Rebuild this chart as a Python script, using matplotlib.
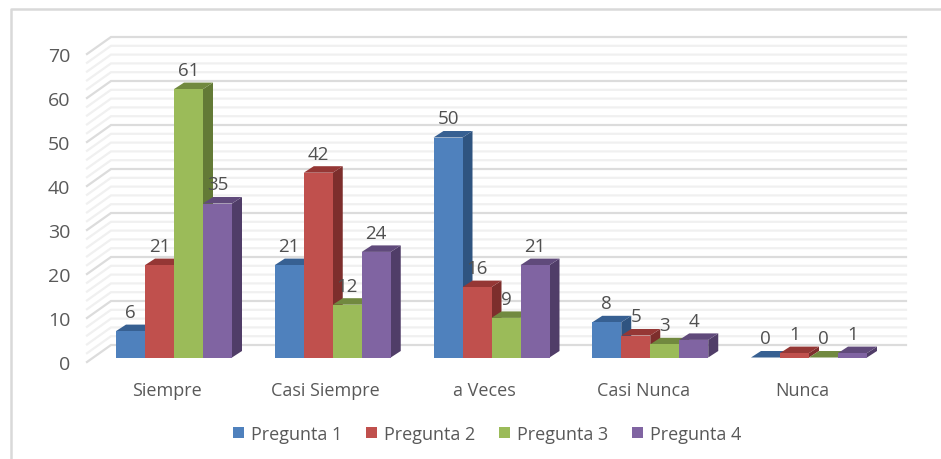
import matplotlib
matplotlib.use("Agg")
import matplotlib.pyplot as plt
from matplotlib.patches import Polygon, Patch, Rectangle

categories = ["Siempre", "Casi Siempre", "a Veces", "Casi Nunca", "Nunca"]
series_names = ["Pregunta 1", "Pregunta 2", "Pregunta 3", "Pregunta 4"]
pregunta_1 = [6, 21, 50, 8, 0]
pregunta_2 = [21, 42, 16, 5, 1]
pregunta_3 = [61, 12, 9, 3, 0]
pregunta_4 = [35, 24, 21, 4, 1]
all_series = [pregunta_1, pregunta_2, pregunta_3, pregunta_4]
y_ticks = [0, 10, 20, 30, 40, 50, 60, 70]
minor_ticks = [v for v in range(0, 71, 2) if v % 10]

front = ["#4F81BD", "#C0504D", "#9BBB59", "#8064A2"]
top = ["#376092", "#953735", "#71893F", "#604A7B"]
side = ["#2F5480", "#7D2E2C", "#637A36", "#503D68"]

W, H = 941, 460
plt.rcParams["font.family"] = ["Open Sans", "DejaVu Sans"]
fig = plt.figure(figsize=(W / 100, H / 100), dpi=100, facecolor="white")

# Axes = front plane of the 3D box, pixel bounds
L, R, Y0, Y70 = 87, 882, 363, 55
ax = fig.add_axes([L / W, 1 - Y0 / H, (R - L) / W, (Y0 - Y70) / H])
ppu = (Y0 - Y70) / 70          # pixels per value unit
ppc = 158.75                   # pixels per category
x0 = 167
ax.set_xlim((L - x0) / ppc, (R - x0) / ppc)
ax.set_ylim(0, 70)
for s in ax.spines.values():
    s.set_visible(False)
ax.patch.set_visible(False)


def px(n):
    return n / ppc


def py(n):
    return n / ppu


xa, xb = ax.get_xlim()
wdx, wdy = px(24), py(17)      # wall depth
gx, gy = px(7), py(4.5)        # bar offset from floor front
bdx, bdy = px(10), py(6.5)     # bar depth
bw = px(29)

# walls
for v in minor_ticks:
    ax.plot([xa, xa + wdx, xb + wdx], [v, v + wdy, v + wdy], color="#f0f0f0", lw=1.6, clip_on=False, zorder=1, solid_joinstyle="miter")
for v in y_ticks:
    ax.plot([xa, xa + wdx, xb + wdx], [v, v + wdy, v + wdy], color="#dcdcdc", lw=1.6, clip_on=False, zorder=1.5, solid_joinstyle="miter")

# bars
z = 2
for i, cat in enumerate(categories):
    for j, vals in enumerate(all_series):
        v = vals[i]
        xl = i + (j - 2) * bw + gx
        xr = xl + bw
        yb = gy
        yt = gy + v
        ax.add_patch(Polygon([(xr, yb), (xr + bdx, yb + bdy), (xr + bdx, yt + bdy), (xr, yt)], fc=side[j], ec="none", clip_on=False, zorder=z))
        ax.add_patch(Polygon([(xl, yt), (xl + bdx, yt + bdy), (xr + bdx, yt + bdy), (xr, yt)], fc=top[j], ec="none", clip_on=False, zorder=z))
        ax.add_patch(Rectangle((xl, yb), bw, v, fc=front[j], ec="none", clip_on=False, zorder=z + 0.1))
        z += 0.2

# value labels
for i in range(len(categories)):
    for j, vals in enumerate(all_series):
        xc = i + (j - 2) * bw + gx + bw / 2
        ax.text(xc, gy + vals[i] + py(19), str(vals[i]), ha="center", va="center", fontsize=13.5, color="#505050", zorder=50)

ax.set_yticks(y_ticks)
ax.set_xticks(range(len(categories)))
ax.set_xticklabels(categories)
ax.tick_params(axis="both", length=0, labelcolor="#595959")
ax.tick_params(axis="y", pad=12, labelsize=14)
ax.tick_params(axis="x", pad=13.5, labelsize=13)

handles = [Patch(fc=c, ec="none") for c in front]
leg = ax.legend(handles, series_names, ncol=4, loc="center", bbox_to_anchor=(487 / W, 1 - 435 / H),
                bbox_transform=fig.transFigure, frameon=False, fontsize=13, labelcolor="#595959",
                handlelength=0.61, handleheight=0.61, handletextpad=0.4, columnspacing=1.3, borderpad=0)

# outer frame
fig.add_artist(plt.Line2D([11 / W, 11 / W, 1], [0, 1 - 10 / H, 1 - 10 / H], transform=fig.transFigure, color="#d9d9d9", lw=1.8))

fig.savefig("out.png", dpi=100)
